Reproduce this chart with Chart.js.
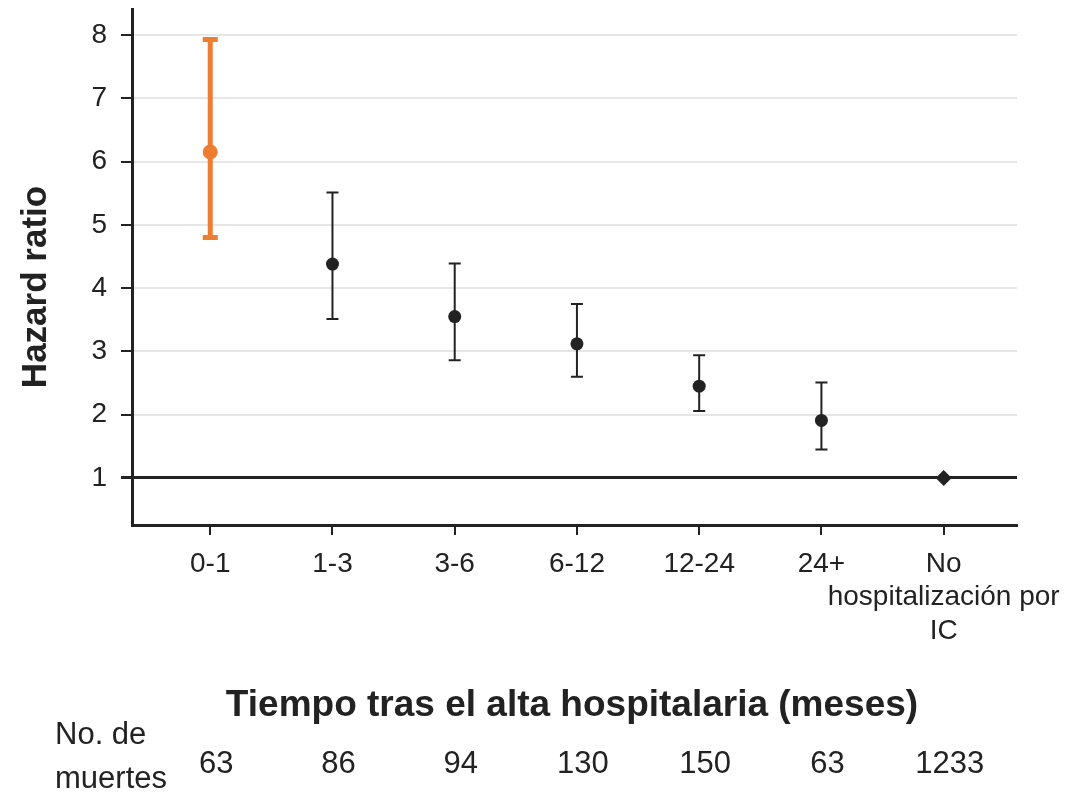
<!DOCTYPE html>
<html>
<head>
<meta charset="utf-8">
<script src="https://cdn.jsdelivr.net/npm/chart.js@4/dist/chart.umd.min.js"></script>
<style>
  body { margin: 0; background: #fff; }
</style>
</head>
<body>
<canvas id="myChart" width="1092" height="798"></canvas>
<script>
// datos
const categories = ['0-1', '1-3', '3-6', '6-12', '12-24', '24+', ['No', 'hospitalización por', 'IC']];
const hazardRatio = [6.15, 4.38, 3.55, 3.12, 2.45, 1.91];
const ciLower = [4.80, 3.51, 2.86, 2.60, 2.06, 1.45];
const ciUpper = [7.93, 5.51, 4.39, 3.75, 2.94, 2.51];
const referenceHR = 1;
const deaths = [63, 86, 94, 130, 150, 63, 1233];
const yTicks = [1, 2, 3, 4, 5, 6, 7, 8];

const orange = '#ED7D31';
const dark = '#222222';
const grey = '#e6e6e6';

Chart.defaults.font.family = "'Liberation Sans', Arial, sans-serif";
Chart.defaults.color = dark;

// barras de error
const errorBars = {
    id: 'errorBars',
    beforeDatasetsDraw(chart) {
        const { ctx, scales: { x, y } } = chart;
        ctx.save();
        ciLower.forEach((lo, i) => {
            const px = x.getPixelForValue(i);
            const yTop = y.getPixelForValue(ciUpper[i]);
            const yBot = y.getPixelForValue(lo);
            const first = i === 0;
            const cap = first ? 7.5 : 6;
            ctx.strokeStyle = first ? orange : dark;
            ctx.lineWidth = first ? 5 : 2;
            ctx.beginPath();
            ctx.moveTo(px, yTop);
            ctx.lineTo(px, yBot);
            ctx.moveTo(px - cap, yTop);
            ctx.lineTo(px + cap, yTop);
            ctx.moveTo(px - cap, yBot);
            ctx.lineTo(px + cap, yBot);
            ctx.stroke();
        });
        ctx.restore();
    }
};

// textos extra: titulos y numero de muertes
const extraText = {
    id: 'extraText',
    afterDraw(chart) {
        const { ctx, scales: { x } } = chart;
        ctx.save();
        ctx.fillStyle = dark;

        ctx.font = "bold 37px 'Liberation Sans', Arial, sans-serif";
        ctx.textAlign = 'center';
        ctx.textBaseline = 'alphabetic';
        ctx.fillText('Tiempo tras el alta hospitalaria (meses)', 572, 716);

        ctx.save();
        ctx.translate(36, 287);
        ctx.rotate(-Math.PI / 2);
        ctx.textBaseline = 'middle';
        ctx.font = "bold 35px 'Liberation Sans', Arial, sans-serif";
        ctx.fillText('Hazard ratio', 0, 0);
        ctx.restore();

        ctx.font = "31px 'Liberation Sans', Arial, sans-serif";
        ctx.textAlign = 'left';
        ctx.fillText('No. de', 55, 744);
        ctx.fillText('muertes', 55, 788);

        ctx.textAlign = 'center';
        deaths.forEach((d, i) => {
            ctx.fillText(String(d), x.getPixelForValue(i) + 6, 773);
        });
        ctx.restore();
    }
};

const ctx1 = document.getElementById('myChart');

new Chart(ctx1, {
    type: 'scatter',
    data: {
        datasets: [{
            label: 'Hazard ratio',
            data: hazardRatio.map((v, i) => ({ x: i, y: v })),
            pointRadius: hazardRatio.map((v, i) => i === 0 ? 7.5 : 6.5),
            pointBackgroundColor: hazardRatio.map((v, i) => i === 0 ? orange : dark),
            pointBorderWidth: 0,
            showLine: false
        }, {
            label: 'Referencia',
            data: [{ x: categories.length - 1, y: referenceHR }],
            pointStyle: 'rectRot',
            pointRadius: 8,
            pointBackgroundColor: dark,
            pointBorderWidth: 0
        }]
    },
    options: {
        responsive: false,
        animation: false,
        devicePixelRatio: 1,
        layout: {
            padding: { top: 9, right: 75, left: 0, bottom: 0 }
        },
        plugins: {
            legend: { display: false },
            tooltip: { enabled: false }
        },
        scales: {
            x: {
                type: 'linear',
                min: -0.64,
                max: 6.6,
                afterBuildTicks: (scale) => {
                    scale.ticks = categories.map((c, i) => ({ value: i }));
                },
                afterFit: (scale) => {
                    scale.height = 273;
                    scale.paddingLeft = 0;
                    scale.paddingRight = 0;
                },
                ticks: {
                    callback: (value) => categories[value],
                    font: { size: 28 },
                    padding: 12,
                    maxRotation: 0,
                    autoSkip: false
                },
                grid: {
                    drawOnChartArea: false,
                    tickColor: dark,
                    tickLength: 10,
                    lineWidth: 2
                },
                border: { color: dark, width: 3 }
            },
            y: {
                type: 'linear',
                min: 0.257,
                max: 8.41,
                afterBuildTicks: (scale) => {
                    scale.ticks = yTicks.map(v => ({ value: v }));
                },
                afterFit: (scale) => {
                    scale.width = 132;
                    scale.paddingTop = 0;
                    scale.paddingBottom = 0;
                },
                ticks: {
                    font: { size: 28 },
                    padding: 14
                },
                grid: {
                    color: (c) => c.tick && c.tick.value === referenceHR ? dark : grey,
                    lineWidth: (c) => c.tick && c.tick.value === referenceHR ? 3 : 2,
                    tickColor: dark,
                    tickLength: 11
                },
                border: { color: dark, width: 3 }
            }
        }
    },
    plugins: [errorBars, extraText]
});
</script>
</body>
</html>
